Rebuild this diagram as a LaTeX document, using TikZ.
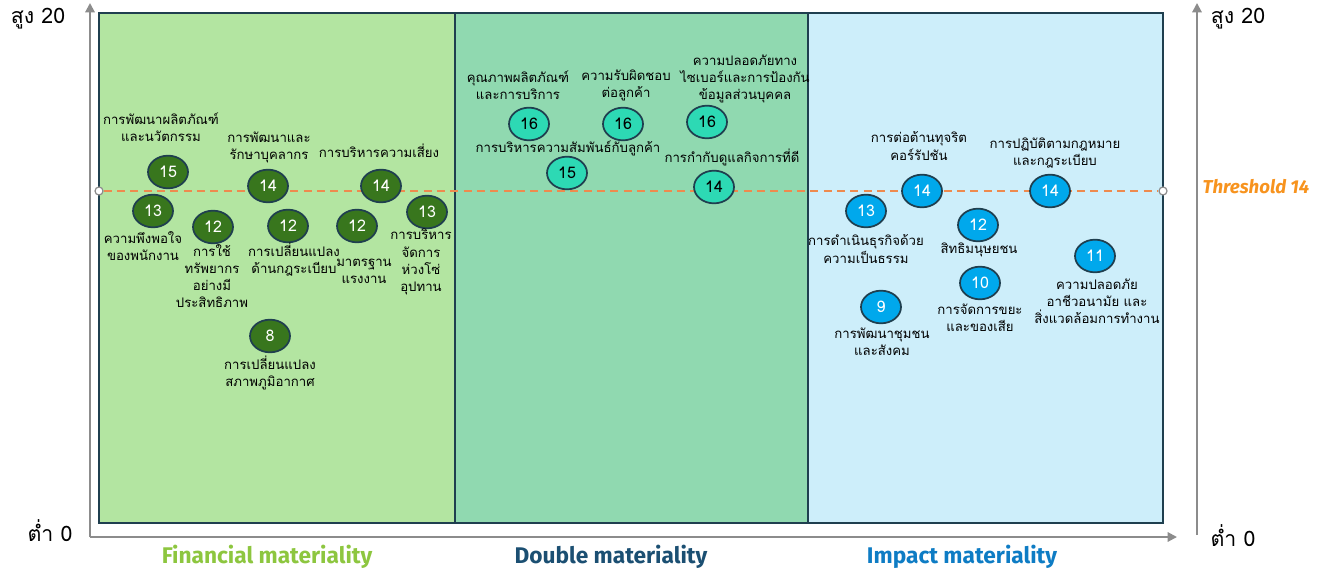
\documentclass[tikz,border=0pt]{standalone}
\usepackage{fontspec}
\setmainfont[Script=Thai]{Loma}
\newfontfamily\latinfont{Fira Sans}
\usetikzlibrary{shapes.geometric,arrows.meta}
\definecolor{gpanel}{HTML}{B3E5A1}
\definecolor{mpanel}{HTML}{90D9B0}
\definecolor{bpanel}{HTML}{CDEEFA}
\definecolor{pborder}{HTML}{1F3F4F}
\definecolor{gbubble}{HTML}{38761D}
\definecolor{mbubble}{HTML}{2DD9B4}
\definecolor{bbubble}{HTML}{00A8EC}
\definecolor{thr}{HTML}{EE8A4E}
\definecolor{thrtext}{HTML}{F7931E}
\definecolor{axisgray}{HTML}{8C8C8C}
\definecolor{fincol}{HTML}{8DC63F}
\definecolor{dblcol}{HTML}{1B4F72}
\definecolor{impcol}{HTML}{0E7CC4}
\tikzset{
  panel/.style={draw=pborder,line width=1.3pt},
  bub/.style={ellipse,minimum width=30pt,minimum height=24.5pt,inner sep=0pt,draw=pborder,line width=1.3pt,font=\fontsize{12}{13}\selectfont},
  gb/.style={bub,fill=gbubble,text=white},
  mb/.style={bub,fill=mbubble,text=black},
  bb/.style={bub,fill=bbubble,text=white},
  lbl/.style={align=center,inner sep=0pt,font=\fontsize{9.9}{12.8}\selectfont,text=black},
  axisline/.style={draw=axisgray,line width=1.5pt},
  endpt/.style={circle,draw=axisgray,fill=white,line width=0.9pt,minimum size=6pt,inner sep=0pt},
  cat/.style={font=\latinfont\bfseries\fontsize{17}{19}\selectfont,inner sep=0pt},
  ax/.style={font=\fontsize{16}{18}\selectfont,inner sep=0pt}
}
\begin{document}
\begin{tikzpicture}[x=0.75pt,y=-0.75pt]
\useasboundingbox (0,0) rectangle (1323,573);
% panels
\fill[gpanel] (99,13) rectangle (455,523);
\fill[bpanel] (808,13) rectangle (1163,523);
\draw[panel] (99,13) rectangle (455,523);
\draw[panel] (808,13) rectangle (1163,523);
\draw[panel,fill=mpanel,line width=1.8pt] (455,13) rectangle (808,523);
% axes
\coordinate (o) at (90,537);
\coordinate (ytop) at (90,3);
\coordinate (xend) at (1177,537);
\coordinate (rbot) at (1197,535);
\coordinate (rtop) at (1197,3);
\draw[axisline,-{Triangle[length=7pt,width=7pt]}] (o) -- (ytop);
\draw[axisline,-{Triangle[length=7pt,width=7pt]}] (o) -- (xend);
\draw[axisline,-{Triangle[length=7pt,width=7pt]}] (rbot) -- (rtop);
\node[ax] (h1) at (38,19) {สูง 20};
\node[ax] (l1) at (50,531) {ต่ำ 0};
\node[ax] (h2) at (1238,19) {สูง 20};
\node[ax] (l2) at (1233,536) {ต่ำ 0};
% threshold
\node[endpt] (t1) at (99,191) {};
\node[endpt] (t2) at (1163,191) {};
\draw[thr,line width=1.5pt,dash pattern=on 6pt off 4pt] (t1) -- (t2);
\node[font=\latinfont\bfseries\itshape\fontsize{14}{16}\selectfont,text=thrtext,inner sep=0pt] (thl) at (1256,187) {Threshold 14};
% category labels
\node[cat,text=fincol] (c1) at (267,557) {Financial materiality};
\node[cat,text=dblcol] (c2) at (611,557) {Double materiality};
\node[cat,text=impcol] (c3) at (962,557) {Impact materiality};
% left panel
\node[gb] (g15) at (168,172) {15};
\node[lbl] (lg15) at (161,127) {การพัฒนาผลิตภัณฑ์\\และนวัตกรรม};
\node[gb] (g13) at (153,211) {13};
\node[lbl] (lg13) at (143,246) {ความพึงพอใจ\\ของพนักงาน};
\node[gb] (g12a) at (213,227) {12};
\node[lbl] (lg12a) at (212,276) {การใช้\\ทรัพยากร\\อย่างมี\\ประสิทธิภาพ};
\node[gb] (g14a) at (268,186) {14};
\node[lbl] (lg14a) at (269,147) {การพัฒนาและ\\รักษาบุคลากร};
\node[gb] (g12b) at (288,226) {12};
\node[lbl] (lg12b) at (294,260) {การเปลี่ยนแปลง\\ด้านกฎระเบียบ};
\node[gb] (g14b) at (381,186) {14};
\node[lbl] (lg14b) at (379,151) {การบริหารความเสี่ยง};
\node[gb] (g12c) at (357,226) {12};
\node[lbl] (lg12c) at (364,271) {มาตรฐาน\\แรงงาน};
\node[gb] (g13b) at (427,212) {13};
\node[lbl] (lg13b) at (421,262) {การบริหาร\\จัดการ\\ห่วงโซ่\\อุปทาน};
\node[gb] (g8) at (270,336) {8};
\node[lbl] (lg8) at (270,373) {การเปลี่ยนแปลง\\สภาพภูมิอากาศ};
% middle panel
\node[mb] (m16a) at (529,124) {16};
\node[lbl] (lm16a) at (518,85) {คุณภาพผลิตภัณฑ์\\และการบริการ};
\node[mb] (m16b) at (623,124) {16};
\node[lbl] (lm16b) at (626,85) {ความรับผิดชอบ\\ต่อลูกค้า};
\node[mb] (m16c) at (707,122) {16};
\node[lbl] (lm16c) at (745,79) {ความปลอดภัยทาง\\ไซเบอร์และการป้องกัน\\ข้อมูลส่วนบุคคล};
\node[mb] (m15) at (567,173) {15};
\node[lbl] (lm15) at (568,148) {การบริหารความสัมพันธ์กับลูกค้า};
\node[mb] (m14) at (714,187) {14};
\node[lbl] (lm14) at (732,157) {การกำกับดูแลกิจการที่ดี};
% right panel
\node[bb] (b14a) at (922,191) {14};
\node[lbl] (lb14a) at (919,146) {การต่อต้านทุจริต\\คอร์รัปชัน};
\node[bb] (b14b) at (1050,191) {14};
\node[lbl] (lb14b) at (1055,153) {การปฏิบัติตามกฎหมาย\\และกฎระเบียบ};
\node[bb] (b13) at (866,211) {13};
\node[lbl] (lb13) at (866,249) {การดำเนินธุรกิจด้วย\\ความเป็นธรรม};
\node[bb] (b12) at (978,225) {12};
\node[lbl] (lb12) at (979,250) {สิทธิมนุษยชน};
\node[bb] (b10) at (980,283) {10};
\node[lbl] (lb10) at (980,318) {การจัดการขยะ\\และของเสีย};
\node[bb] (b9) at (881,307) {9};
\node[lbl] (lb9) at (882,342) {การพัฒนาชุมชน\\และสังคม};
\node[bb] (b11) at (1095,256) {11};
\node[lbl] (lb11) at (1097,301) {ความปลอดภัย\\อาชีวอนามัย และ\\สิ่งแวดล้อมการทำงาน};
\end{tikzpicture}
\end{document}
